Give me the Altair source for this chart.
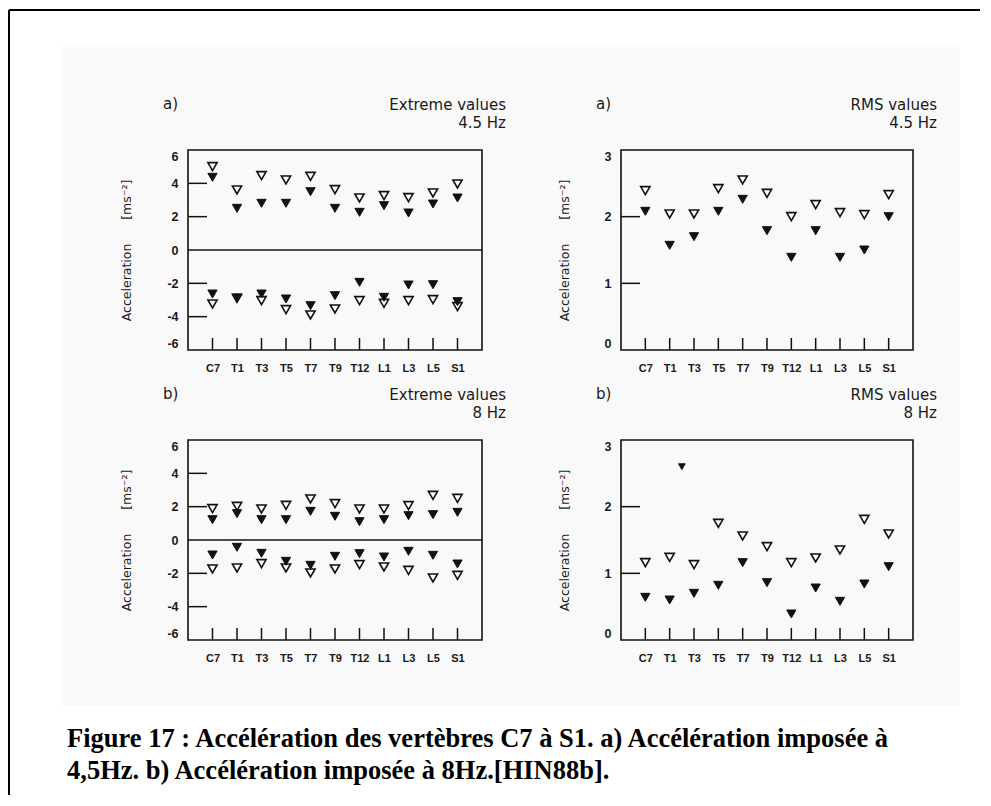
import json
import altair as alt
import pandas as pd

# ---------------- data ----------------
verts = ["C7", "T1", "T3", "T5", "T7", "T9", "T12", "L1", "L3", "L5", "S1"]

# a) Extreme values, 4.5 Hz
ext45_max_open = [5.0, 3.6, 4.46, 4.2, 4.42, 3.62, 3.12, 3.26, 3.14, 3.42, 3.96]
ext45_max_filled = [4.36, 2.5, 2.8, 2.8, 3.5, 2.5, 2.26, 2.66, 2.22, 2.76, 3.12]
ext45_min_filled = [-2.64, -2.88, -2.64, -2.94, -3.34, -2.74, -1.94, -2.84, -2.1, -2.08, -3.1]
ext45_min_open = [-3.24, -2.9, -3.04, -3.58, -3.9, -3.54, -3.04, -3.2, -3.04, -2.98, -3.4]

# a) RMS values, 4.5 Hz
rms45_open = [2.39, 2.04, 2.04, 2.42, 2.55, 2.35, 2.0, 2.18, 2.06, 2.03, 2.33]
rms45_filled = [2.08, 1.57, 1.70, 2.08, 2.26, 1.79, 1.39, 1.79, 1.39, 1.50, 2.0]

# b) Extreme values, 8 Hz
ext8_max_open = [1.88, 2.02, 1.86, 2.08, 2.46, 2.18, 1.86, 1.86, 2.06, 2.68, 2.5]
ext8_max_filled = [1.22, 1.58, 1.22, 1.22, 1.72, 1.42, 1.1, 1.22, 1.46, 1.52, 1.66]
ext8_min_filled = [-0.9, -0.44, -0.8, -1.28, -1.52, -0.98, -0.82, -1.02, -0.68, -0.92, -1.44]
ext8_min_open = [-1.74, -1.68, -1.42, -1.68, -1.98, -1.74, -1.48, -1.62, -1.82, -2.28, -2.12]

# b) RMS values, 8 Hz
rms8_open = [1.16, 1.24, 1.13, 1.75, 1.56, 1.40, 1.16, 1.23, 1.35, 1.81, 1.59]
rms8_filled = [0.64, 0.60, 0.70, 0.82, 1.16, 0.86, 0.39, 0.78, 0.58, 0.84, 1.10]
rms8_extra_pos = [1.5]      # isolated point between T1 and T3
rms8_extra_value = [2.6]

ext_axis_values = [-6, -4, -2, 0, 2, 4, 6]
ext_inner_ticks = [4, 2, -2, -4]
rms_axis_values = [0, 1, 2, 3]
rms_inner_ticks = [2, 1]

header_ext45 = "Extreme values\n4.5 Hz"
header_rms45 = "RMS values\n4.5 Hz"
header_ext8 = "Extreme values\n8 Hz"
header_rms8 = "RMS values\n8 Hz"
letters = ["a)", "a)", "b)", "b)"]
NB = "\u00a0"
y_title = "Acceleration" + NB * 6 + "[ms⁻²]" + NB * 8
caption = ("Figure 17 : Accélération des vertèbres C7 à S1. a) Accélération imposée à\n"
           "4,5Hz. b) Accélération imposée à 8Hz.[HIN88b].")

# ---------------- styling ----------------
INK = "#111111"
TXT = "#1a1a1a"
SCAN = "#f9f9f9"
H = 200
LABEL_FONT = "Liberation Sans"
HEAD_FONT = "DejaVu Sans"

label_expr = json.dumps(verts) + "[datum.value]"
y_label_expr = "datum.value < 0 ? '-' + abs(datum.value) : '' + datum.value"


def panel(open_series, filled_series, domain, axis_values, inner_ticks,
          header, letter, width, zero_line, extra=None, back=None, decor=None):
    pos = list(range(len(verts)))
    xs = alt.Scale(domain=[-1, len(verts)], nice=False, zero=False)
    ys = alt.Scale(domain=domain, nice=False, zero=False)
    x_enc = alt.X(
        "pos:Q", scale=xs,
        axis=alt.Axis(values=pos, labelExpr=label_expr, title=None, grid=False,
                      domain=False, ticks=False, tickSize=0, labelOverlap=False,
                      labelFlush=False, labelPadding=12, labelFont=LABEL_FONT,
                      labelFontSize=11, labelFontWeight="bold", labelColor=TXT,
                      zindex=2),
    )
    y_enc = alt.Y(
        "value:Q", scale=ys,
        axis=alt.Axis(values=axis_values, labelExpr=y_label_expr, title=y_title,
                      grid=False, domain=False, ticks=False, tickSize=0,
                      labelFlush=True, labelPadding=10, labelFont=LABEL_FONT,
                      labelFontSize=12.5, labelFontWeight="bold", labelColor=TXT,
                      titleFont=HEAD_FONT, titleFontSize=12.5,
                      titleFontWeight="normal", titleColor=TXT, titlePadding=33,
                      zindex=2),
    )

    layers = []
    if back:
        layers.extend(back)
    # panel box
    layers.append(
        alt.Chart(pd.DataFrame({"k": ["box"]}))
        .mark_rect(fill=SCAN, stroke=INK, strokeWidth=1.6)
        .encode(x=alt.value(0), x2=alt.value(width), y=alt.value(0), y2=alt.value(H))
    )
    # inward y ticks
    layers.append(
        alt.Chart(pd.DataFrame({"value": inner_ticks}))
        .mark_rule(color=INK, strokeWidth=1.5)
        .encode(y=y_enc, x=alt.value(0), x2=alt.value(19))
    )
    # inward x ticks
    layers.append(
        alt.Chart(pd.DataFrame({"pos": pos}))
        .mark_rule(color=INK, strokeWidth=1.5)
        .encode(x=x_enc, y=alt.value(H), y2=alt.value(H - 12))
    )
    if zero_line:
        layers.append(
            alt.Chart(pd.DataFrame({"value": [0]}))
            .mark_rule(color=INK, strokeWidth=1.5)
            .encode(y=y_enc)
        )
    open_df = pd.DataFrame({
        "pos": [p for s in open_series for p in pos],
        "value": [v for s in open_series for v in s],
    })
    filled_df = pd.DataFrame({
        "pos": [p for s in filled_series for p in pos],
        "value": [v for s in filled_series for v in s],
    })
    layers.append(
        alt.Chart(open_df)
        .mark_point(shape="triangle-down", size=85, filled=True, fill="white",
                    stroke=INK, strokeWidth=1.6, opacity=1)
        .encode(x=x_enc, y=y_enc)
    )
    layers.append(
        alt.Chart(filled_df)
        .mark_point(shape="triangle-down", size=85, filled=True, fill=INK,
                    stroke=INK, strokeWidth=1, opacity=1)
        .encode(x=x_enc, y=y_enc)
    )
    if extra is not None:
        layers.append(
            alt.Chart(pd.DataFrame({"pos": extra[0], "value": extra[1]}))
            .mark_point(shape="triangle-down", size=45, filled=True, fill=INK,
                        stroke=INK, strokeWidth=1, opacity=1)
            .encode(x=x_enc, y=y_enc)
        )
    # panel letter and header
    layers.append(
        alt.Chart(pd.DataFrame({"t": [letter]}))
        .mark_text(align="left", baseline="middle", font=HEAD_FONT, fontSize=15,
                   color=TXT)
        .encode(text="t:N", x=alt.value(-25), y=alt.value(-46))
    )
    layers.append(
        alt.Chart(pd.DataFrame({"t": [header]}))
        .mark_text(align="right", baseline="middle", font=HEAD_FONT, fontSize=15,
                   color=TXT, lineBreak="\n", lineHeight=18)
        .encode(text="t:N", x=alt.value(width + 24), y=alt.value(-45))
    )
    if decor:
        layers.extend(decor)
    return alt.layer(*layers).properties(width=width, height=H)


# faint scanned-page background (drawn first, behind all panels)
scan_back = [
    alt.Chart(pd.DataFrame({"k": ["scan"]}))
    .mark_rect(fill=SCAN, strokeWidth=0)
    .encode(x=alt.value(-126), x2=alt.value(772), y=alt.value(-105), y2=alt.value(556)),
]

# frame (left and top edges of the page box) and caption, placed with panel 1
frame_and_caption = [
    alt.Chart(pd.DataFrame({"k": ["frame-left"]}))
    .mark_rule(color="#000000", strokeWidth=2)
    .encode(x=alt.value(-179), y=alt.value(-140), y2=alt.value(645)),
    alt.Chart(pd.DataFrame({"k": ["frame-top"]}))
    .mark_rule(color="#000000", strokeWidth=2)
    .encode(x=alt.value(-179), x2=alt.value(792), y=alt.value(-140)),
    alt.Chart(pd.DataFrame({"t": [caption]}))
    .mark_text(align="left", baseline="alphabetic", font="Liberation Serif",
               fontSize=26.5, fontWeight="bold", color="#000000",
               lineBreak="\n", lineHeight=32)
    .encode(text="t:N", x=alt.value(-121), y=alt.value(597)),
]

p1 = panel([ext45_max_open, ext45_min_open], [ext45_max_filled, ext45_min_filled],
           [-6, 6], ext_axis_values, ext_inner_ticks, header_ext45, letters[0],
           294, True, back=scan_back, decor=frame_and_caption)
p2 = panel([rms45_open], [rms45_filled], [0, 3], rms_axis_values, rms_inner_ticks,
           header_rms45, letters[1], 292, False)
p3 = panel([ext8_max_open, ext8_min_open], [ext8_max_filled, ext8_min_filled],
           [-6, 6], ext_axis_values, ext_inner_ticks, header_ext8, letters[2],
           294, True)
p4 = panel([rms8_open], [rms8_filled], [0, 3], rms_axis_values, rms_inner_ticks,
           header_rms8, letters[3], 292, False,
           extra=(rms8_extra_pos, rms8_extra_value))

chart = (
    alt.concat(p1, p2, p3, p4, columns=2, spacing={"row": 90, "column": 139},
               bounds="flush")
    .properties(padding={"left": 0, "top": 1, "right": 0, "bottom": 0},
                background="white")
    .configure_view(stroke="transparent", strokeWidth=0)
)

chart.save("out.html", embed_options={"renderer": "svg", "actions": False})
